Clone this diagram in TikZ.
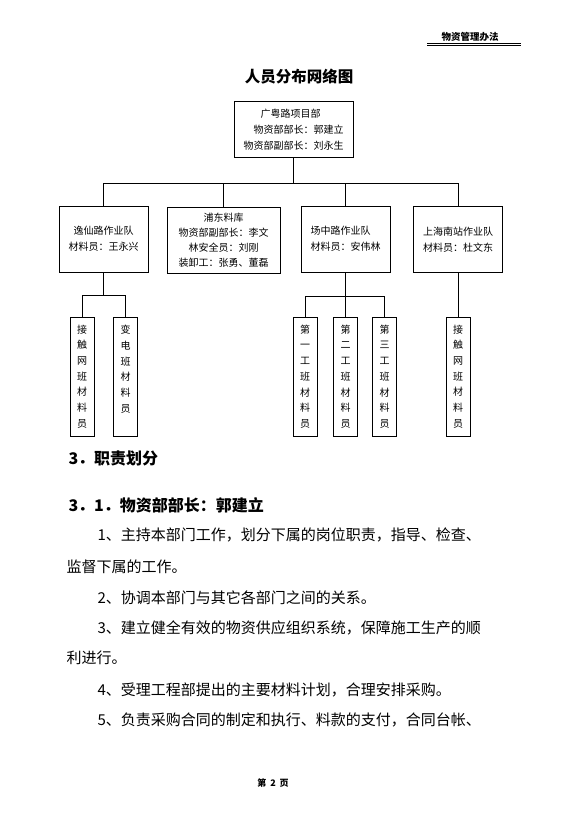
\documentclass[tikz,border=0pt]{standalone}
\usepackage{fontspec}
\setmainfont{Noto Sans CJK SC}
\usepackage{tikz}

\begin{document}
\begin{tikzpicture}[x=1pt, y=-1pt,
  every path/.style={line width=1pt},
  unit/.style={draw, inner sep=2pt, minimum height=66pt, font=\fontsize{10}{16}\selectfont},
  crew/.style={draw, inner sep=0pt, minimum width=24pt, minimum height=119pt, align=center, font=\fontsize{10}{15.7}\selectfont},
  line/.style={anchor=west, inner sep=0pt, font=\fontsize{15}{15}\selectfont}]

\useasboundingbox (0,0) rectangle (584,824);

% Page header and title
\node[inner sep=0pt, font=\bfseries\fontsize{9.5}{9.5}\selectfont] (header) at (470, 37) {物资管理办法};
\draw[line width=0.8pt] (427, 43.2) -- (521, 43.2);
\draw[line width=0.8pt] (427, 45.2) -- (521, 45.2);
\node[inner sep=0pt, font=\bfseries\fontsize{15.5}{15.5}\selectfont] (title) at (299, 77) {人员分布网络图};

% Head of the project
\node[draw, minimum width=119pt, minimum height=55pt, align=right, font=\fontsize{10}{16}\selectfont] (top) at (293.5, 129.5) {广粤路项目部\hspace*{23pt}\mbox{}\\物资部部长：郭建立\\物资部副部长：刘永生};

% Work teams
\node[unit, minimum width=89pt, align=center] (qa) at (103.5, 239) {逸仙路作业队\\材料员：王永兴};
\node[unit, minimum width=113pt, align=center, font=\fontsize{10}{15}\selectfont] (qb) at (223.5, 240) {浦东料库\\物资部副部长：李文\\林安全员：刘刚\\装卸工：张勇、董磊};
\node[unit, minimum width=89pt, align=left] (qc) at (345.5, 239) {场中路作业队\\材料员：安伟林};
\node[unit, minimum width=89pt, align=center] (qd) at (458, 239.5) {上海南站作业队\\材料员：杜文东};

% Material clerks of the crews
\node[crew] (a1) at (82, 376.5) {接\\触\\网\\班\\材\\料\\员};
\node[crew] (a2) at (125.5, 376.5) {变\\电\\班\\材\\料\\员\\\mbox{}};
\node[crew] (c1) at (305, 376.5) {第\\一\\工\\班\\材\\料\\员};
\node[crew] (c2) at (345.5, 376.5) {第\\二\\工\\班\\材\\料\\员};
\node[crew] (c3) at (384.5, 376.5) {第\\三\\工\\班\\材\\料\\员};
\node[crew] (d1) at (458, 376.5) {接\\触\\网\\班\\材\\料\\员};

% Lines from the head to the teams
\foreach \q in {qa,qb,qc,qd} {
    \draw (top.south) -- ++(0,26) -| (\q.north);
}

% Lines from the teams to the crews
\foreach \c in {a1,a2} {
    \draw (qa.south) -- ++(0,23) -| (\c.north);
}
\foreach \c in {c1,c2,c3} {
    \draw (qc.south) -- ++(0,24) -| (\c.north);
}
\draw (qd.south) -- (d1.north);

% Text of the page
\node[line, font=\bfseries\fontsize{16}{16}\selectfont] (sec) at (68, 458) {3．职责划分};
\node[line, font=\bfseries\fontsize{16}{16}\selectfont] (subsec) at (68, 505) {3．1．物资部部长：郭建立};
\node[line] (p1) at (97, 535) {1、主持本部门工作，划分下属的岗位职责，指导、检查、};
\node[line] (p1b) at (66, 567) {监督下属的工作。};
\node[line] (p2) at (97, 598) {2、协调本部门与其它各部门之间的关系。};
\node[line] (p3) at (97, 628) {3、建立健全有效的物资供应组织系统，保障施工生产的顺};
\node[line] (p3b) at (66, 658) {利进行。};
\node[line] (p4) at (97, 690) {4、受理工程部提出的主要材料计划，合理安排采购。};
\node[line] (p5) at (97, 720) {5、负责采购合同的制定和执行、料款的支付，合同台帐、};

% Page number
\node[inner sep=0pt, font=\bfseries\fontsize{9}{9}\selectfont] (page) at (273, 783) {第\hspace{4pt}2\hspace{4pt}页};

\end{tikzpicture}
\end{document}
